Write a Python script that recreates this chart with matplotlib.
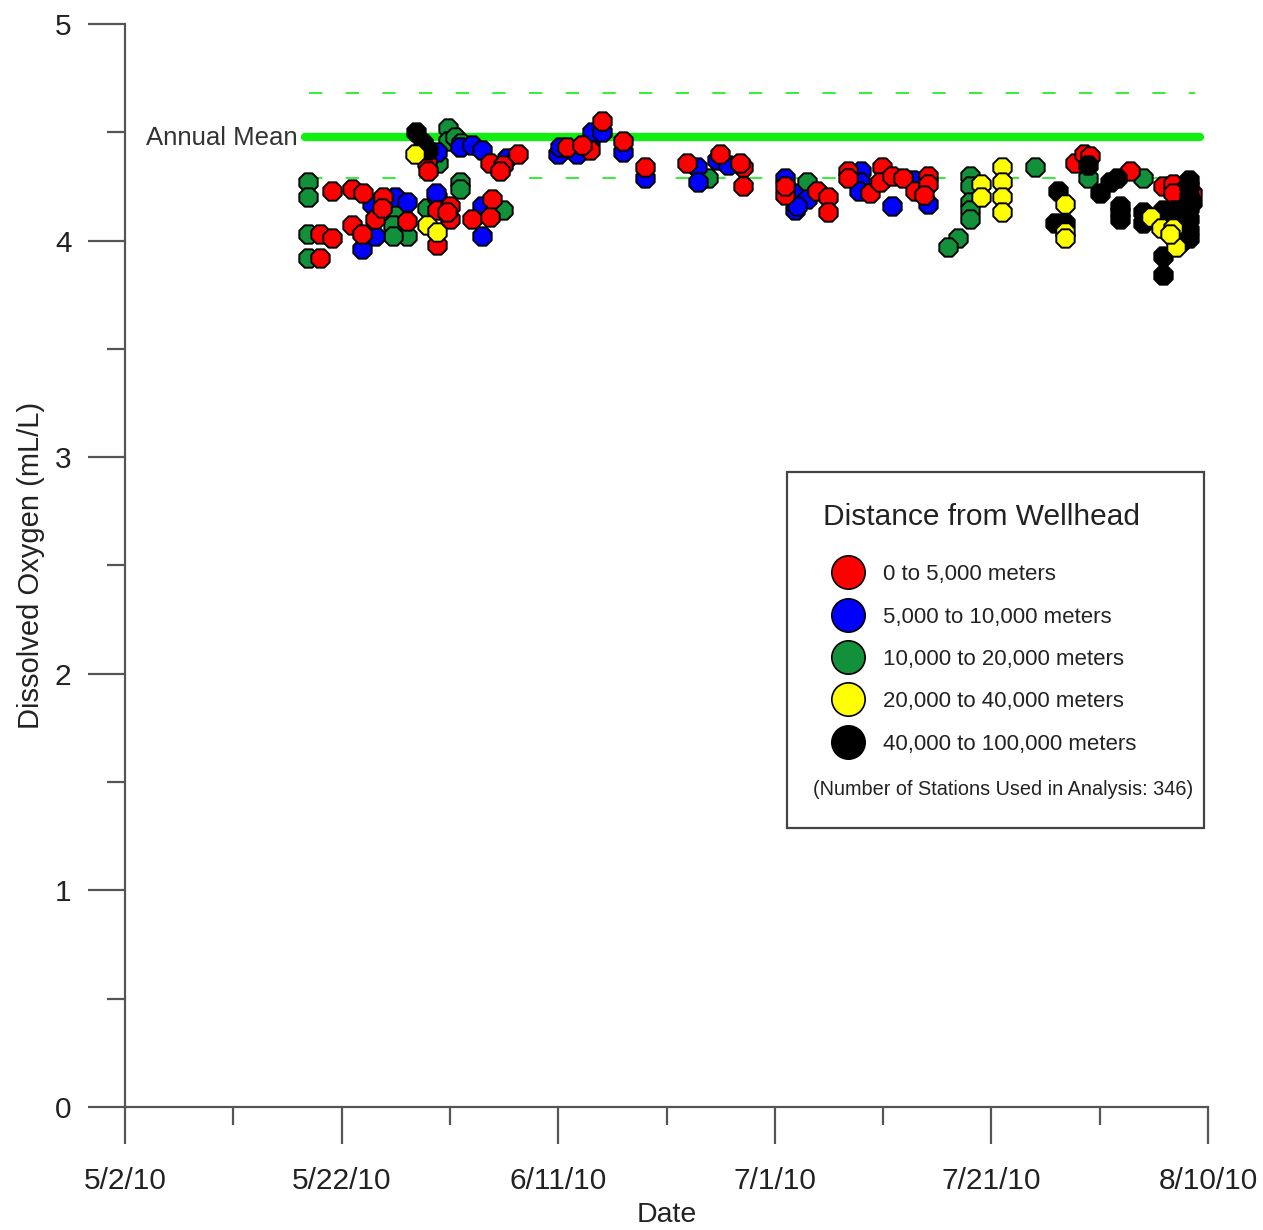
import pandas as pd
import matplotlib
matplotlib.use('Agg')
import matplotlib.pyplot as plt
from matplotlib.patches import Rectangle
from matplotlib.lines import Line2D

plt.rcParams['font.family'] = ['Liberation Sans', 'DejaVu Sans']

# --------------------------- data (days after 5/2/10, dissolved oxygen mL/L)
start = pd.Timestamp('2010-05-02')
end = pd.Timestamp('2010-08-10')

red_day = [19.1, 21.0, 22.0, 18.0, 19.1, 18.0, 21.0, 21.9, 23.1, 23.8, 23.7, 26.0, 28.8, 28.8, 30.0,
           30.0, 29.7, 32.0, 33.9, 33.7, 27.9, 28.0, 33.7, 34.9, 34.6, 36.3, 40.8, 42.9, 42.2, 44.0,
           46.0, 48.0, 51.9, 54.9, 57.1, 57.1, 56.8, 60.9, 60.9, 63.9, 64.9, 64.9, 66.8, 66.8, 68.8,
           69.9, 69.7, 70.8, 71.8, 72.9, 74.1, 74.1, 73.8, 87.7, 88.5, 89.1, 92.8, 95.8, 96.8, 97.7,
           96.8, 98.5]
red_do = [4.23, 4.24, 4.22, 4.03, 4.01, 3.92, 4.07, 4.03, 4.10, 4.20, 4.15, 4.09, 4.14, 3.98, 4.16,
          4.10, 4.13, 4.10, 4.19, 4.11, 4.36, 4.32, 4.36, 4.35, 4.32, 4.40, 4.43, 4.42, 4.44, 4.55,
          4.46, 4.34, 4.36, 4.40, 4.34, 4.25, 4.36, 4.21, 4.25, 4.23, 4.20, 4.13, 4.32, 4.29, 4.22,
          4.34, 4.27, 4.30, 4.29, 4.23, 4.30, 4.26, 4.21, 4.36, 4.40, 4.39, 4.32, 4.25, 4.26, 4.23,
          4.22, 4.22]

blue_day = [22.8, 24.9, 26.0, 21.9, 23.1, 28.7, 33.0, 33.0, 28.8, 30.9, 32.0, 33.0, 35.3, 40.0, 40.2,
            41.7, 42.9, 43.1, 44.0, 46.0, 48.0, 52.8, 52.9, 54.7, 55.7, 60.9, 61.7, 61.9, 63.0, 62.0,
            68.0, 67.9, 67.8, 70.8, 72.8, 74.1]
blue_do = [4.17, 4.20, 4.18, 3.96, 4.02, 4.22, 4.16, 4.02, 4.41, 4.43, 4.44, 4.42, 4.38, 4.40, 4.43,
           4.40, 4.46, 4.50, 4.50, 4.41, 4.29, 4.34, 4.27, 4.37, 4.35, 4.29, 4.22, 4.14, 4.19, 4.16,
           4.32, 4.27, 4.23, 4.16, 4.28, 4.17]

green_day = [16.9, 16.9, 16.9, 16.9, 24.9, 24.7, 26.0, 24.7, 27.9, 28.8, 30.9, 30.9, 34.9, 28.9, 29.8,
             29.8, 30.5, 31.0, 53.8, 63.0, 78.0, 78.0, 78.0, 78.0, 78.0, 76.9, 76.0, 84.0, 88.9, 94.0]
green_do = [4.27, 4.20, 4.03, 3.92, 4.14, 4.07, 4.02, 4.02, 4.15, 4.20, 4.27, 4.24, 4.14, 4.36, 4.52,
            4.46, 4.48, 4.45, 4.29, 4.27, 4.30, 4.25, 4.18, 4.14, 4.10, 4.01, 3.97, 4.34, 4.29, 4.29]

yellow_day = [26.8, 27.9, 28.8, 79.0, 79.0, 81.0, 81.0, 81.0, 81.0, 86.8, 86.8, 86.8, 94.7, 95.7, 96.8,
              97.0, 96.5]
yellow_do = [4.40, 4.07, 4.04, 4.26, 4.20, 4.34, 4.27, 4.20, 4.13, 4.17, 4.04, 4.01, 4.11, 4.06, 4.06,
             3.97, 4.03]

black_day = [26.9, 27.5, 28.0, 86.1, 85.9, 86.8, 88.9, 90.0, 90.9, 91.6, 91.9, 91.9, 91.9, 94.0, 94.0,
             95.8, 95.8, 95.8, 98.2, 98.2, 98.2, 98.2, 98.2, 98.2, 98.2, 97.3, 97.6, 96.9, 98.5]
black_do = [4.50, 4.45, 4.42, 4.23, 4.08, 4.08, 4.35, 4.22, 4.27, 4.29, 4.16, 4.10, 4.13, 4.13, 4.08,
            3.93, 3.84, 4.14, 4.28, 4.25, 4.20, 4.15, 4.10, 4.05, 4.01, 4.11, 4.00, 4.14, 4.18]

annual_mean = 4.48
mean_band = [4.29, 4.68]
mean_span = [16.6, 99.3]
band_span = [17.0, 98.8]

labels = ['0 to 5,000 meters', '5,000 to 10,000 meters', '10,000 to 20,000 meters',
          '20,000 to 40,000 meters', '40,000 to 100,000 meters']
colors = ['#ff0000', '#0000ff', '#13913a', '#ffff00', '#000000']
n_stations = 346

# ---------------------------


def to_date(days):
    return start + pd.to_timedelta(pd.Series(days, dtype=float), unit='D')


fig = plt.figure(figsize=(12.63, 12.30), dpi=100)
ax = fig.add_axes([0.099, 0.1, 0.8575, 0.8805])

lime = '#11ee11'
ax.plot(to_date(mean_span), [annual_mean] * 2, color=lime, linewidth=6, solid_capstyle='round', zorder=2)
for b in mean_band:
    ax.plot(to_date(band_span), [b] * 2, color=lime, linewidth=1.2, dashes=(8, 14), zorder=2)

ax.text(to_date([15.9])[0], annual_mean - 0.005, 'Annual Mean', ha='right', va='center',
        fontsize=18.5, color='#333333')

series = [(green_day, green_do, colors[2]), (blue_day, blue_do, colors[1]),
          (red_day, red_do, colors[0]), (black_day, black_do, colors[4]),
          (yellow_day, yellow_do, colors[3])]
for z, (d, v, c) in enumerate(series):
    ax.scatter(to_date(d), v, s=205, marker='8', facecolor=c, edgecolor='black',
               linewidth=1.4, zorder=3 + z)

ax.set_xlim(start, end)
ax.set_ylim(0, 5)

major_dates = pd.date_range(start, end, freq='20D')
ax.set_xticks(major_dates)
ax.set_xticks(pd.date_range(start, end, freq='10D'), minor=True)
ax.set_xticklabels([f'{t.month}/{t.day}/{t.strftime("%y")}' for t in major_dates])
ax.set_yticks(range(0, 6))
ax.set_yticks([0.5, 1.5, 2.5, 3.5, 4.5], minor=True)

for s in ['top', 'right']:
    ax.spines[s].set_visible(False)
for s in ['left', 'bottom']:
    ax.spines[s].set_color('#555555')
    ax.spines[s].set_linewidth(1.6)

ax.tick_params(which='major', direction='out', length=26.5, width=1.6, color='#555555',
               labelsize=21.5, labelcolor='#222222')
ax.tick_params(which='minor', direction='out', length=13, width=1.6, color='#555555')
ax.tick_params(axis='x', which='major', pad=17)
ax.tick_params(axis='y', which='major', pad=12)

ax.set_xlabel('Date', fontsize=20.5, color='#222222', labelpad=5)
ax.set_ylabel('Dissolved Oxygen (mL/L)', fontsize=21, color='#222222', labelpad=7)

# legend box
ax.add_patch(Rectangle((0.611, 0.258), 0.385, 0.328, transform=ax.transAxes, facecolor='white',
                       edgecolor='#444444', linewidth=1.6, zorder=10))
handles = [Line2D([], [], marker='o', linestyle='none', markersize=24, markerfacecolor=c,
                  markeredgecolor='black', markeredgewidth=1.2) for c in colors]
leg = ax.legend(handles, labels, title='Distance from Wellhead', loc='upper left',
                bbox_to_anchor=(0.636, 0.566), frameon=False, fontsize=16,
                title_fontproperties={'size': 21.5}, labelspacing=0.96, handletextpad=0.55,
                borderaxespad=0)
leg.set_zorder(11)
leg._legend_box.sep = 24
for t in leg.get_texts():
    t.set_color('#222222')
leg.get_title().set_color('#222222')
ax.text(0.811, 0.293, f'(Number of Stations Used in Analysis: {n_stations})', transform=ax.transAxes,
        ha='center', va='center', fontsize=14.3, color='#222222', zorder=12)

fig.savefig('out.png', dpi=100)
plt.close(fig)
